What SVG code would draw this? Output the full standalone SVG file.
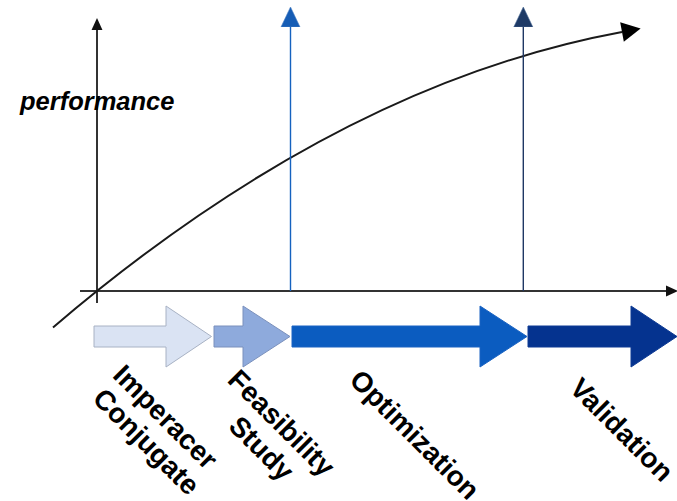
<svg xmlns="http://www.w3.org/2000/svg" width="677" height="501" viewBox="0 0 677 501">
  <defs>
    <style>
      .axis { fill: none; stroke: #333333; stroke-width: 2; }
      .curve { fill: none; stroke: #1a1a1a; stroke-width: 2; }
      .mark1 { fill: none; stroke: #1562bf; stroke-width: 1.4; }
      .mark2 { fill: none; stroke: #1f3864; stroke-width: 1.4; }
      .label { font-family: "Liberation Sans", Arial, sans-serif; font-weight: bold; font-size: 28px; fill: #000000; }
      .ylabel { font-family: "Liberation Sans", Arial, sans-serif; font-weight: bold; font-style: italic; font-size: 25.5px; fill: #000000; }
    </style>
    <marker id="axisHead" markerUnits="userSpaceOnUse" markerWidth="12" markerHeight="12" refX="0" refY="5" orient="auto" viewBox="0 0 11 10">
      <polygon points="0,0 11,5 0,10" fill="#111111"/>
    </marker>
    <marker id="curveHead" markerUnits="userSpaceOnUse" markerWidth="20" markerHeight="20" refX="0" refY="9.5" orient="auto" viewBox="0 0 18 19">
      <polygon points="0,0 18,9.5 0,19" fill="#000000"/>
    </marker>
    <marker id="head1" markerUnits="userSpaceOnUse" markerWidth="20" markerHeight="21" refX="0" refY="9.5" orient="auto" viewBox="0 0 20 19">
      <polygon points="0,0 20,9.5 0,19" fill="#165db5" stroke="#4a7fc4" stroke-width="0.6"/>
    </marker>
    <marker id="head2" markerUnits="userSpaceOnUse" markerWidth="20" markerHeight="21" refX="0" refY="9.5" orient="auto" viewBox="0 0 20 19">
      <polygon points="0,0 20,9.5 0,19" fill="#1e3a66" stroke="#4a6a96" stroke-width="0.6"/>
    </marker>
  </defs>

  <!-- axes, growth curve and milestone markers -->
  <g id="connectors">
    <line class="axis" x1="97" y1="303" x2="97" y2="30" marker-end="url(#axisHead)"/>
    <line class="axis" x1="80" y1="291" x2="666" y2="291" marker-end="url(#axisHead)"/>
    <path class="curve" d="M53,327.4 Q337.5,84.5 622,32" marker-end="url(#curveHead)"/>
    <line class="mark1" x1="290.5" y1="291" x2="290.5" y2="27" marker-end="url(#head1)"/>
    <line class="mark2" x1="523.3" y1="291" x2="523.3" y2="27" marker-end="url(#head2)"/>
  </g>

  <g id="axis-label">
    <text class="ylabel" x="20" y="110">performance</text>
  </g>

  <!-- phase arrows -->
  <g id="phase-imperacer">
    <polygon points="94,326 166,326 166,306 211.5,336.5 166,367 166,347 94,347" fill="#dae3f3" stroke="#a8b2c4" stroke-width="1"/>
    <text class="label" text-anchor="middle" transform="translate(161.5,426.5) rotate(45)">
      <tspan x="0" y="0">Imperacer</tspan>
      <tspan x="0" y="31">Conjugate</tspan>
    </text>
  </g>

  <g id="phase-feasibility">
    <polygon points="214,326 243,326 243,306 290,336.5 243,367 243,347 214,347" fill="#8eaadc" stroke="#7a90bc" stroke-width="1"/>
    <text class="label" text-anchor="middle" transform="translate(277.5,432.5) rotate(45)">
      <tspan x="0" y="0">Feasibility</tspan>
      <tspan x="0" y="32">Study</tspan>
    </text>
  </g>

  <g id="phase-optimization">
    <polygon points="292,326 480,326 480,306 527,336.5 480,367 480,347 292,347" fill="#0b5cc0" stroke="#1a63c2" stroke-width="1"/>
    <text class="label" text-anchor="middle" transform="translate(408,441.5) rotate(45)">Optimization</text>
  </g>

  <g id="phase-validation">
    <polygon points="528,326 631,326 631,306 677,336.5 631,367 631,347 528,347" fill="#05338f" stroke="#0f3b94" stroke-width="1"/>
    <text class="label" text-anchor="middle" transform="translate(615,436.5) rotate(45)">Validation</text>
  </g>
</svg>
